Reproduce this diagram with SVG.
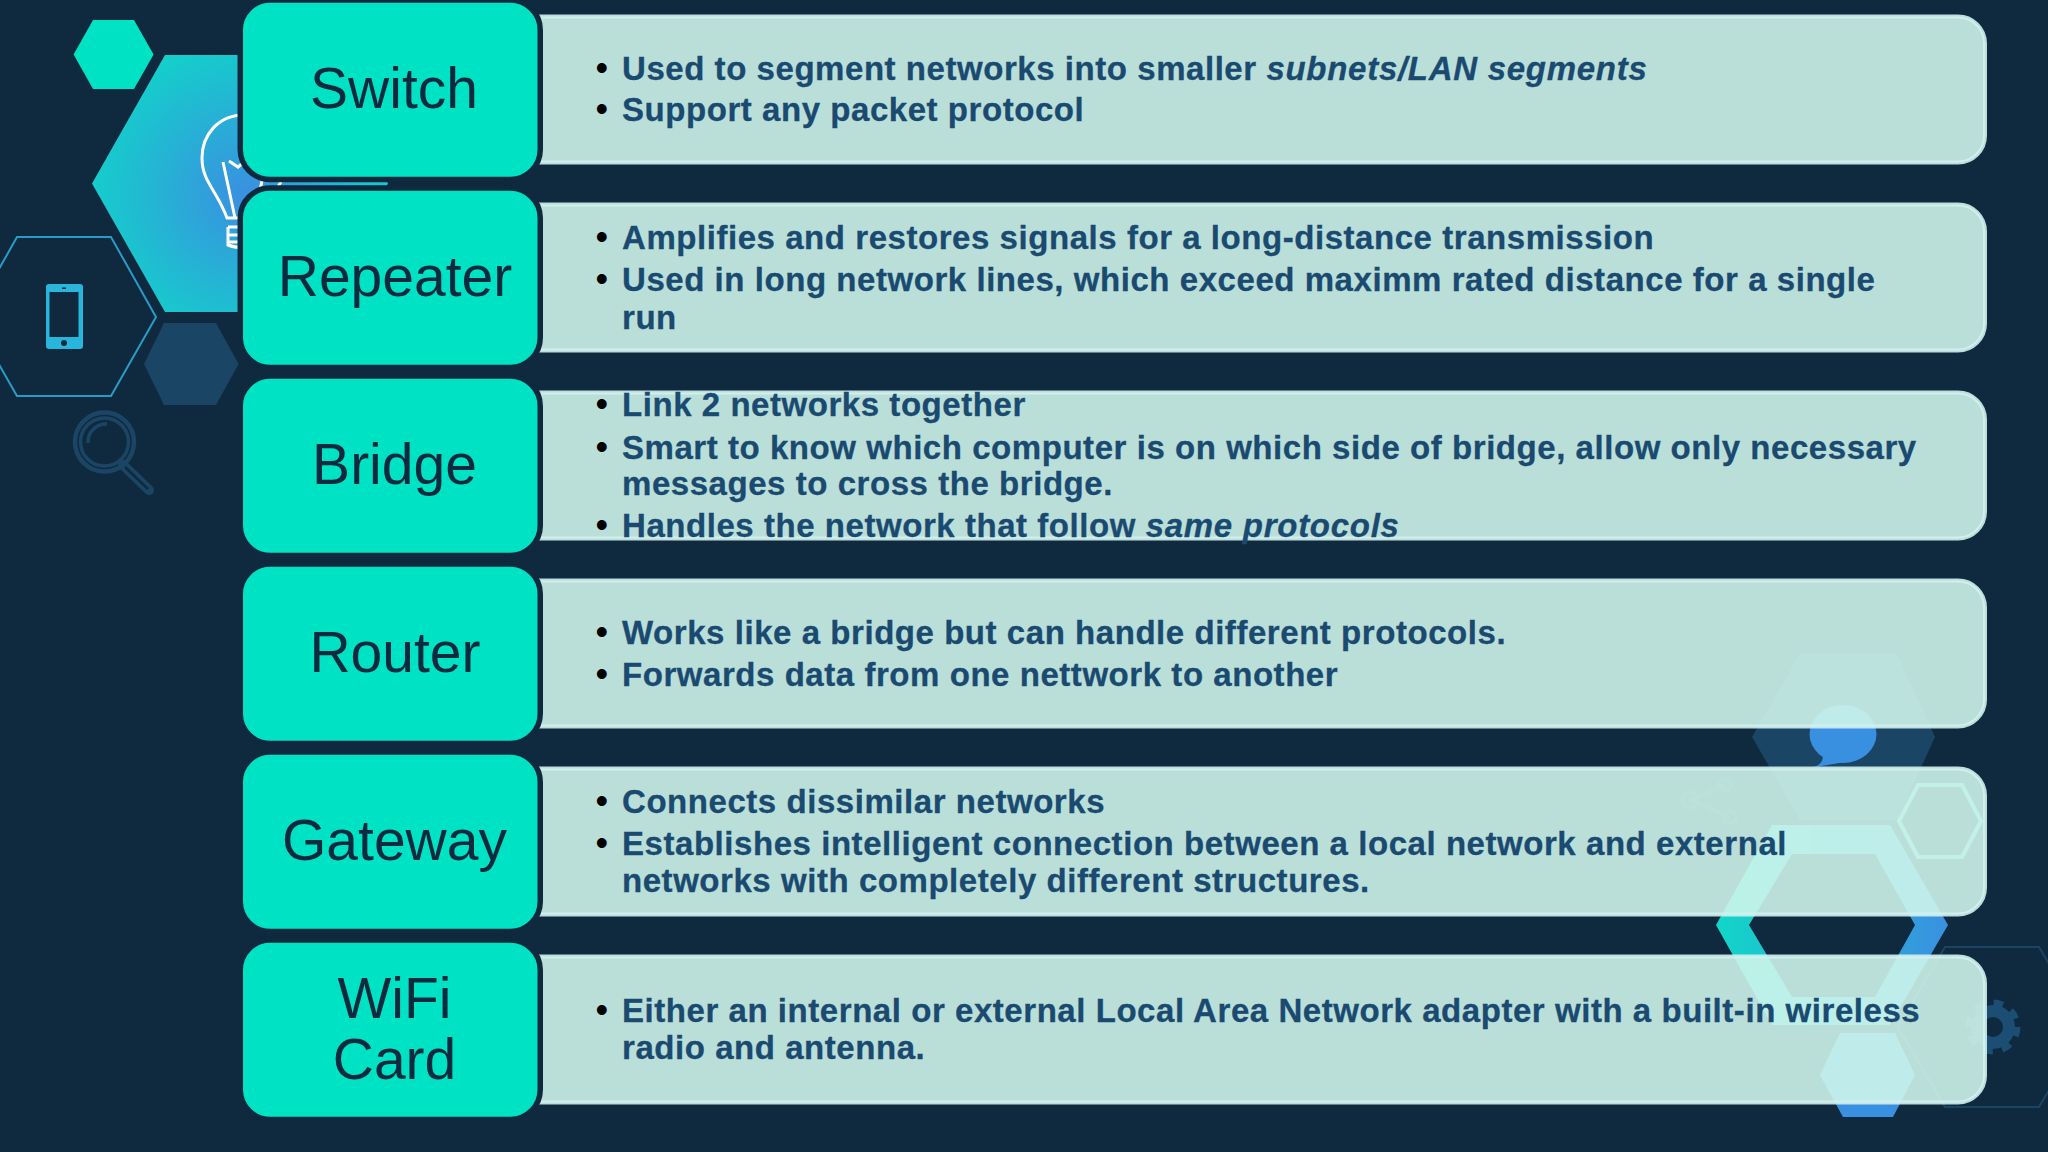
<svg xmlns="http://www.w3.org/2000/svg" width="2048" height="1152" viewBox="0 0 2048 1152">
<style>
.lab{fill:#d0f6ec;fill-opacity:.89;stroke:#d2f2ee;stroke-opacity:.9;stroke-width:4}
.box{fill:#00e2c4;stroke:#0f2a3e;stroke-width:5.5}
.t{font-family:"Liberation Sans",Arial,sans-serif;font-weight:700;font-size:33px;letter-spacing:.55px;fill:#1a4a70;stroke:#1a4a70;stroke-width:.3}
.i{font-style:italic;letter-spacing:.72px}
.b{font-family:"Liberation Sans",Arial,sans-serif;font-size:36px;fill:#000}
.n{font-family:"Liberation Sans",Arial,sans-serif;font-size:57px;fill:#0f2a3e;text-anchor:middle}
.dk{fill:#1b4565}
.ol{fill:none;stroke:#1b4565;stroke-width:4}
</style>
<defs>
<linearGradient id="g1" x1="0" y1="0" x2="1" y2="0"><stop offset="0" stop-color="#12d6c8"/><stop offset="1" stop-color="#3a90e0"/></linearGradient>
<radialGradient id="g2" gradientUnits="userSpaceOnUse" cx="245" cy="195" r="165"><stop offset="0" stop-color="#3a90e0"/><stop offset="1" stop-color="#12d2ca"/></radialGradient>
</defs>
<rect width="2048" height="1152" fill="#0f2a3e"/>
<g id="decor-left">
<polygon points="93,20 134,20 153.6,54.5 134,89 93,89 73.6,54.5" fill="#00e2c4"/>
<polygon points="92,183.500 165,55 315,55 388,183.500 315,312 165,312" fill="url(#g2)"/>
<g fill="none" stroke="#fff" stroke-width="3">
<path d="M244.5,115C218,115 202,135 202,158C202,182 217,190 227,218H262C272,190 287,182 287,158C287,135 271,115 244.500,115"/>
<path d="M223,162L235,218M266,162L254,218"/>
<path d="M229,161L238,167L245,161L251,167L260,161"/>
<path d="M228,227H261M228,235H261M228,242H261M228,227V245Q240,250 261,245V227"/>
</g>
<polygon points="17,237 111,237 156,317 111,396 17,396 -28,317" fill="none" stroke="#2a9bc8" stroke-width="2"/>
<rect x="46" y="284" width="37" height="65" rx="3" fill="#29b5dc"/>
<rect x="49.5" y="292" width="29" height="45" fill="#0f2a3e"/>
<circle cx="64" cy="343" r="3" fill="#0f2a3e"/>
<rect x="62" y="287.5" width="4" height="1.5" fill="#0f2a3e"/>
<polygon points="164,323 216,323 238.6,364 216,405 164,405 144,364" class="dk"/>
<circle cx="104.5" cy="442" r="29.5" class="ol" style="stroke-width:4.5"/>
<circle cx="104.5" cy="442" r="24" class="ol" style="stroke-width:3.5"/>
<path d="M88,443A18,18 0 0 1 107,424" class="ol" style="stroke-width:3.5"/>
<path d="M123,465L149,490" stroke="#1b4565" stroke-width="10" stroke-linecap="round"/>
<path d="M125,467L148,489" stroke="#0f2a3e" stroke-width="2.5"/>
</g>
<g id="decor-right">
<polygon points="1800,654 1897,654 1935,737 1897,820 1800,820 1752,737" class="dk"/>
<path d="M1810,768Q1826,765 1822,752L1845,762Z" fill="#3a90e0"/>
<ellipse cx="1843" cy="734" rx="33.5" ry="29" fill="#3a90e0"/>
<polygon points="1918,785 1962,785 1981,821 1962,857 1918,857 1899,821" fill="none" stroke="#80f0e0" stroke-width="4" opacity=".8"/>
<path d="M1772,825H1890L1948,925L1890,1025H1772L1716,925ZM1792,854L1749,925L1792,997H1875L1915,925L1875,854Z" fill="url(#g1)" fill-rule="evenodd"/>
<polygon points="1840,1033 1895,1033 1915,1075 1893,1117 1843,1117 1820,1075" fill="#3a90e0"/>
<polygon points="1945,947 2039,947 2086,1027 2039,1107 1945,1107 1898,1027" fill="none" stroke="#1b4565" stroke-width="2"/>
<circle cx="1993" cy="1027" r="16" fill="none" stroke="#1b4e72" stroke-width="12"/>
<circle cx="1993" cy="1027" r="23" fill="none" stroke="#1b4e72" stroke-width="9" stroke-dasharray="9 9.06"/>
<g stroke="#1b4565" stroke-width="4" fill="none" opacity=".6"><path d="M1690,800L1725,785M1690,800L1730,817"/><circle cx="1690" cy="800" r="8"/><circle cx="1725" cy="785" r="6"/><circle cx="1730" cy="817" r="6"/></g>
</g>
<g id="connectors"/>
<g id="switch">
<rect class="lab" x="500" y="16.500" width="1485" height="146" rx="27"/>
<rect class="box" x="240.250" y="0" width="300" height="179.500" rx="30"/>
<text class="n" x="394" y="107.500">Switch</text>
<text class="b" x="595.400" y="79.700">•</text><text class="b" x="595.400" y="121.200">•</text>
<text class="t" y="79.700"><tspan x="622">Used to segment networks into smaller </tspan><tspan class="i">subnets/LAN segments</tspan></text>
<text class="t" x="622" y="121.200">Support any packet protocol</text>
</g>
<g id="repeater">
<rect class="lab" x="500" y="204.500" width="1485" height="146" rx="27"/>
<rect class="box" x="240.250" y="188" width="300" height="179.500" rx="30"/>
<text class="n" x="395" y="295.500">Repeater</text>
<text class="b" x="595.400" y="249">•</text><text class="b" x="595.400" y="291">•</text>
<text class="t" x="622" y="249">Amplifies and restores signals for a long-distance transmission</text>
<text class="t" x="622" y="291">Used in long network lines, which exceed maximm rated distance for a single</text>
<text class="t" x="622" y="328.500">run</text>
</g>
<g id="bridge">
<rect class="lab" x="500" y="392.500" width="1485" height="146" rx="27"/>
<rect class="box" x="240.250" y="376" width="300" height="179.500" rx="30"/>
<text class="n" x="394.500" y="483.500">Bridge</text>
<text class="b" x="595.400" y="416">•</text><text class="b" x="595.400" y="458.500">•</text><text class="b" x="595.400" y="537">•</text>
<text class="t" x="622" y="416">Link 2 networks together</text>
<text class="t" x="622" y="458.500">Smart to know which computer is on which side of bridge, allow only necessary</text>
<text class="t" x="622" y="495">messages to cross the bridge.</text>
<text class="t" y="537"><tspan x="622">Handles the network that follow </tspan><tspan class="i">same protocols</tspan></text>
</g>
<g id="router">
<rect class="lab" x="500" y="580.500" width="1485" height="146" rx="27"/>
<rect class="box" x="240.250" y="564" width="300" height="179.500" rx="30"/>
<text class="n" x="395" y="671.500">Router</text>
<text class="b" x="595.400" y="644">•</text><text class="b" x="595.400" y="686">•</text>
<text class="t" x="622" y="644">Works like a bridge but can handle different protocols.</text>
<text class="t" x="622" y="686">Forwards data from one nettwork to another</text>
</g>
<g id="gateway">
<rect class="lab" x="500" y="768.500" width="1485" height="146" rx="27"/>
<rect class="box" x="240.250" y="752" width="300" height="179.500" rx="30"/>
<text class="n" x="394.500" y="859.500">Gateway</text>
<text class="b" x="595.400" y="813">•</text><text class="b" x="595.400" y="855">•</text>
<text class="t" x="622" y="813">Connects dissimilar networks</text>
<text class="t" x="622" y="855">Establishes intelligent connection between a local network and external</text>
<text class="t" x="622" y="892">networks with completely different structures.</text>
</g>
<g id="wifi-card">
<rect class="lab" x="500" y="956.500" width="1485" height="146" rx="27"/>
<rect class="box" x="240.250" y="940" width="300" height="179.500" rx="30"/>
<text class="n" x="394.500" y="1017.500">WiFi</text>
<text class="n" x="394.500" y="1078.500">Card</text>
<text class="b" x="595.400" y="1022">•</text>
<text class="t" x="622" y="1022">Either an internal or external Local Area Network adapter with a built-in wireless</text>
<text class="t" x="622" y="1059">radio and antenna.</text>
</g>
</svg>
